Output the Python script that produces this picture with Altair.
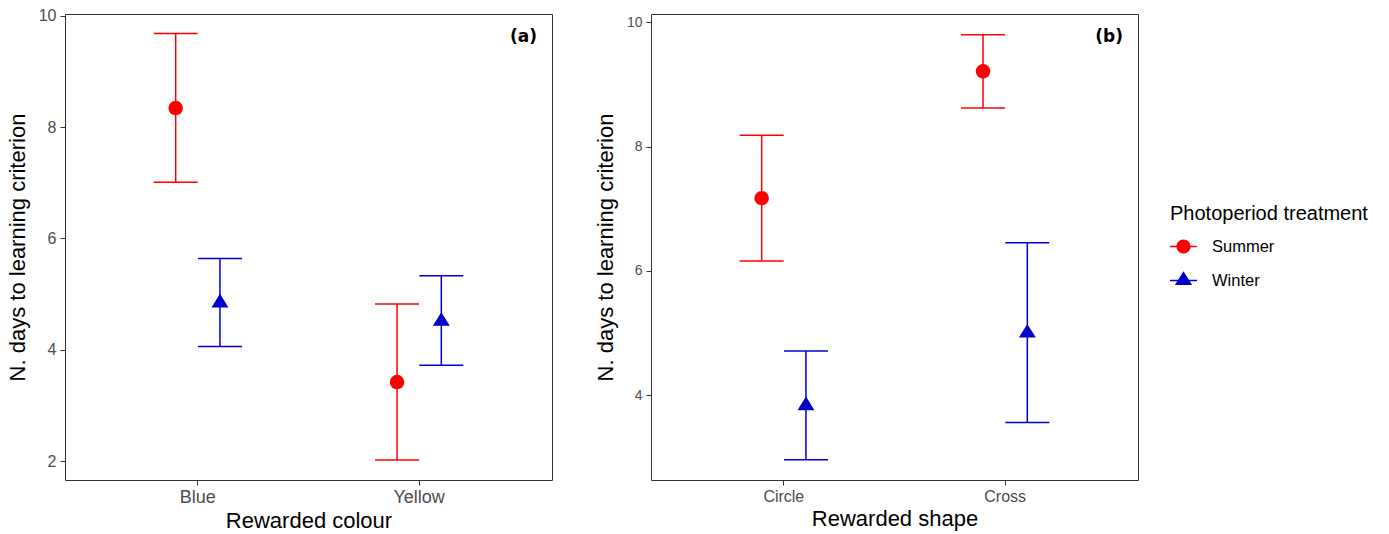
import altair as alt
import pandas as pd

RED = "#FF0000"
BLUE = "#0000CD"

treatments = ["Summer", "Winter"]

# Panel (a): rewarded colour
colour_cats = ["Blue", "Yellow"]
colour_x = ["Blue", "Blue", "Yellow", "Yellow"]
colour_treat = ["Summer", "Winter", "Summer", "Winter"]
colour_mean = [8.34, 4.84, 3.42, 4.51]
colour_lo = [7.01, 4.06, 2.02, 3.72]
colour_hi = [9.68, 5.64, 4.82, 5.33]

# Panel (b): rewarded shape
shape_cats = ["Circle", "Cross"]
shape_x = ["Circle", "Circle", "Cross", "Cross"]
shape_treat = ["Summer", "Winter", "Summer", "Winter"]
shape_mean = [7.17, 3.83, 9.21, 5.00]
shape_lo = [6.16, 2.96, 8.62, 3.56]
shape_hi = [8.18, 4.71, 9.80, 6.45]

TRI = "M0,-1.07L1,0.53L-1,0.53Z"
LEG_CIRCLE = ("M-1,-0.056H1V0.056H-1Z "
              "M0.52,0A0.52,0.52 0 1,1 -0.52,0A0.52,0.52 0 1,1 0.52,0Z")
LEG_TRI = "M-1,-0.056H1V0.056H-1Z M0,-0.68L0.64,0.34L-0.64,0.34Z"

YTITLE = "N. days to learning criterion"
W, H = 487, 466


def panel(cat, cats, vals_x, vals_t, mean, lo, hi, xtitle, ydomain, tag,
          xlab_size, ylab_size, with_legend):
    df = pd.DataFrame({cat: vals_x, "treatment": vals_t,
                       "mean": mean, "lo": lo, "hi": hi})
    yaxis = alt.Axis(title=YTITLE, values=[2, 4, 6, 8, 10], labelFontSize=ylab_size,
                     titleFontSize=22, labelPadding=4, titlePadding=9,
                     tickSize=5, domain=False, grid=False)
    yscale = alt.Scale(domain=ydomain, nice=False, zero=False)
    x = alt.X(f"{cat}:N", sort=cats, title=xtitle,
              scale=alt.Scale(paddingInner=0.6, paddingOuter=0.4),
              axis=alt.Axis(labelAngle=0, labelFontSize=xlab_size, titleFontSize=22,
                            labelPadding=3, titlePadding=4, tickSize=5,
                            domain=False, grid=False))
    xoff = alt.XOffset("treatment:N", sort=treatments,
                       scale=alt.Scale(domain=treatments, paddingInner=0, paddingOuter=0))
    color = alt.Color("treatment:N", scale=alt.Scale(domain=treatments, range=[RED, BLUE]),
                      legend=None)
    base = alt.Chart(df)
    rule = base.mark_rule(strokeWidth=1.5).encode(
        x=x, xOffset=xoff,
        y=alt.Y("lo:Q", scale=yscale, axis=yaxis),
        y2="hi:Q", color=color)
    cap_lo = base.mark_tick(thickness=1.5, size=44, opacity=1).encode(
        x=x, xOffset=xoff, y=alt.Y("lo:Q", scale=yscale, axis=yaxis), color=color)
    cap_hi = base.mark_tick(thickness=1.5, size=44, opacity=1).encode(
        x=x, xOffset=xoff, y=alt.Y("hi:Q", scale=yscale, axis=yaxis), color=color)
    pts = base.mark_point(filled=True, opacity=1, strokeWidth=0).encode(
        x=x, xOffset=xoff, y=alt.Y("mean:Q", scale=yscale, axis=yaxis), color=color,
        shape=alt.Shape("treatment:N", scale=alt.Scale(domain=treatments, range=["circle", TRI]),
                        legend=None),
        size=alt.Size("treatment:N", scale=alt.Scale(domain=treatments, range=[210, 289]),
                      legend=None))
    lab = alt.Chart(pd.DataFrame({"t": [tag]})).mark_text(
        align="right", baseline="middle", font="DejaVu Sans", fontWeight="bold",
        fontSize=17, color="black").encode(
        text="t:N", x=alt.value(W - 15), y=alt.value(23))
    layers = [rule, cap_lo, cap_hi, pts, lab]
    if with_legend:
        leg_kw = dict(title="Photoperiod treatment", orient="none",
                      legendX=519, legendY=190, padding=0,
                      titleFontSize=20, titleFontWeight="normal",
                      titleColor="black", titleFont="Liberation Sans", titleLimit=400,
                      titlePadding=9, labelFontSize=16.5, labelColor="black",
                      labelFont="Liberation Sans", labelOffset=15, labelLimit=300,
                      rowPadding=12, symbolSize=729, symbolOpacity=1,
                      symbolStrokeWidth=0)
        leg = base.transform_filter("false").mark_point(filled=True, opacity=1).encode(
            x=x, xOffset=xoff, y=alt.Y("mean:Q", scale=yscale, axis=yaxis),
            color=alt.Color("treatment:N", scale=alt.Scale(domain=treatments, range=[RED, BLUE]),
                            legend=alt.Legend(**leg_kw)),
            shape=alt.Shape("treatment:N",
                            scale=alt.Scale(domain=treatments, range=[LEG_CIRCLE, LEG_TRI]),
                            legend=alt.Legend(**leg_kw)))
        layers.append(leg)
    return alt.layer(*layers).resolve_scale(
        color="independent", shape="independent", size="independent"
    ).properties(width=W, height=H)


pa = panel("colour", colour_cats, colour_x, colour_treat, colour_mean, colour_lo, colour_hi,
           "Rewarded colour", [1.66, 10.03], "(a)", 18, 16, False)
pb = panel("shape", shape_cats, shape_x, shape_treat, shape_mean, shape_lo, shape_hi,
           "Rewarded shape", [2.634, 10.133], "(b)", 16, 14, True)

chart = alt.hconcat(pa, pb, spacing=40).resolve_scale(
    color="independent", shape="independent", size="independent"
).properties(
    padding={"left": 5, "top": 7, "right": 5, "bottom": 5},
    background="white",
).configure(font="Liberation Sans").configure_view(
    stroke="#333333", strokeWidth=1
).configure_axis(
    tickColor="#333333", labelColor="#4d4d4d", titleColor="black",
    titleFontWeight="normal", labelFont="Liberation Sans", titleFont="Liberation Sans"
)

chart.save("out.html", embed_options={"renderer": "svg", "actions": False})
